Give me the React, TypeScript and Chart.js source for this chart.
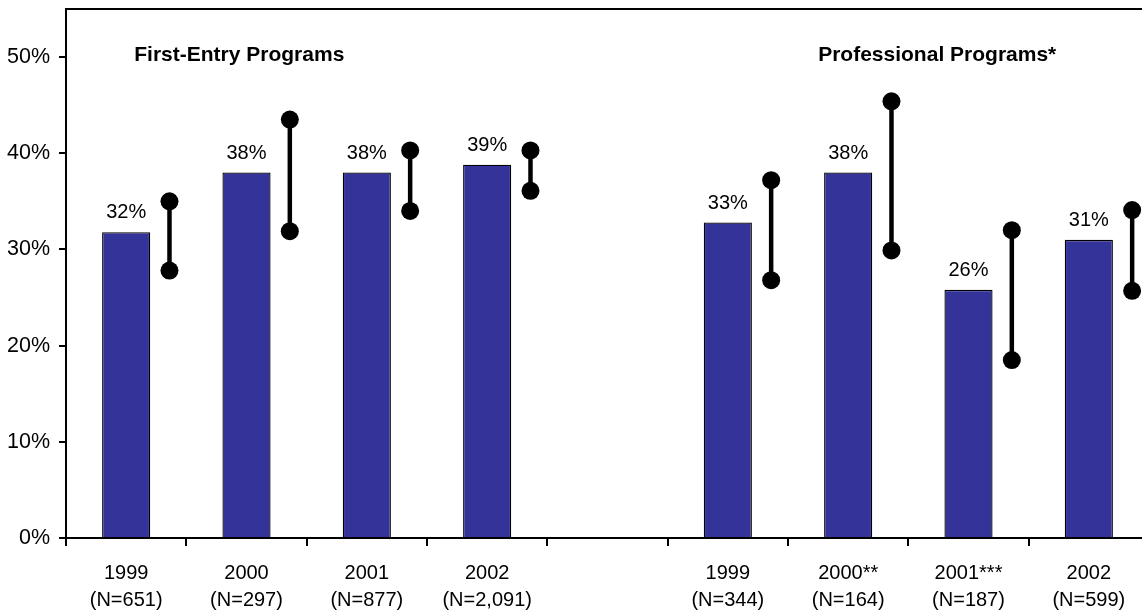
import React, { useEffect, useRef } from 'react';
import { Chart, registerables } from 'chart.js';

Chart.register(...registerables);

// ---- data ----
const categories: string[][] = [
  ['1999', '(N=651)'],
  ['2000', '(N=297)'],
  ['2001', '(N=877)'],
  ['2002', '(N=2,091)'],
  ['', ''],
  ['1999', '(N=344)'],
  ['2000**', '(N=164)'],
  ['2001***', '(N=187)'],
  ['2002', '(N=599)'],
];
const rates: (number | null)[] = [31.8, 38.0, 38.0, 38.8, null, 32.8, 38.0, 25.8, 31.0];
const ciLow: (number | null)[] = [27.8, 31.9, 34.0, 36.1, null, 26.8, 29.9, 18.5, 25.7];
const ciHigh: (number | null)[] = [35.0, 43.5, 40.3, 40.3, null, 37.2, 45.4, 32.0, 34.1];
const yTickValues: number[] = [0, 10, 20, 30, 40, 50];
const groupTitles: string[] = ['First-Entry Programs', 'Professional Programs*'];

const FONT = '"Liberation Sans", Arial, sans-serif';
const ERR_OFFSET = 0.36;
const TITLE_X = [0.94, 6.74];
const TITLE_Y = 49.6;

const overlay = {
  id: 'overlay',
  afterDatasetsDraw(chart: any) {
    const ctx = chart.ctx as CanvasRenderingContext2D;
    const { top, left, right, bottom } = chart.chartArea;
    ctx.save();
    ctx.strokeStyle = '#000';
    ctx.lineWidth = 2;
    ctx.beginPath();
    ctx.moveTo(left - 1, top);
    ctx.lineTo(right, top);
    ctx.lineTo(right, bottom);
    ctx.stroke();

    const meta = chart.getDatasetMeta(0);
    ctx.fillStyle = '#000';
    ctx.font = `20px ${FONT}`;
    ctx.textAlign = 'center';
    ctx.textBaseline = 'alphabetic';
    meta.data.forEach((el: any, i: number) => {
      const v = rates[i];
      if (v == null) return;
      ctx.fillText(`${Math.round(v)}%`, el.x, el.y - 14);
    });

    ctx.font = `bold 21px ${FONT}`;
    const xs = chart.scales.xe;
    const ys = chart.scales.y;
    groupTitles.forEach((t, i) => {
      ctx.fillText(t, xs.getPixelForValue(TITLE_X[i]), ys.getPixelForValue(TITLE_Y));
    });
    ctx.restore();
  },
};

export default function App() {
  const ref = useRef<HTMLCanvasElement | null>(null);
  useEffect(() => {
    if (!ref.current) return;
    const errSets: any[] = [];
    categories.forEach((_, i) => {
      const lo = ciLow[i];
      const hi = ciHigh[i];
      if (lo == null || hi == null) return;
      errSets.push({
        type: 'line',
        xAxisID: 'xe',
        data: [
          { x: i + ERR_OFFSET, y: lo },
          { x: i + ERR_OFFSET, y: hi },
        ],
        borderColor: '#000',
        borderWidth: 4.5,
        pointRadius: 9,
        pointBackgroundColor: '#000',
        pointBorderColor: '#000',
        pointBorderWidth: 0,
        fill: false,
      });
    });
    const chart = new Chart(ref.current, {
      type: 'bar',
      data: {
        labels: categories,
        datasets: [
          {
            type: 'bar',
            xAxisID: 'x',
            data: rates,
            backgroundColor: '#333399',
            borderColor: '#000',
            borderWidth: 1.3,
            grouped: false,
            barPercentage: 0.4,
            categoryPercentage: 1,
          } as any,
          ...errSets,
        ],
      },
      plugins: [overlay],
      options: {
        animation: false,
        responsive: false,
        events: [],
        layout: { padding: { left: 0, right: 11, top: 6, bottom: 0 } },
        plugins: { legend: { display: false }, tooltip: { enabled: false } },
        scales: {
          x: {
            type: 'category',
            offset: true,
            grid: {
              offset: true,
              drawOnChartArea: false,
              tickLength: 8,
              color: '#000',
              lineWidth: 2,
            },
            border: { color: '#000', width: 2 },
            ticks: {
              color: '#000',
              font: { family: FONT, size: 20, lineHeight: 1.35 },
              padding: 14,
              maxRotation: 0,
              autoSkip: false,
            },
            afterFit: (s: any) => {
              s.height = 78;
              s.paddingLeft = 0;
              s.paddingRight = 0;
            },
          },
          xe: {
            type: 'linear',
            display: false,
            offset: false,
            min: -0.5,
            max: categories.length - 0.5,
          },
          y: {
            min: 0,
            max: 55,
            afterBuildTicks: (s: any) => {
              s.ticks = yTickValues.map((v) => ({ value: v }));
            },
            grid: {
              drawOnChartArea: false,
              tickLength: 7,
              color: '#000',
              lineWidth: 2,
            },
            border: { color: '#000', width: 2 },
            ticks: {
              color: '#000',
              font: { family: FONT, size: 21.5 },
              padding: 9,
              callback: (v: any) => `${v}%`,
            },
            afterFit: (s: any) => {
              s.width = 66;
              s.paddingTop = 0;
              s.paddingBottom = 0;
            },
          },
        },
      } as any,
    });
    return () => chart.destroy();
  }, []);

  return (
    <div
      style={{
        position: 'fixed',
        left: 0,
        top: 0,
        width: 1142,
        height: 616,
        overflow: 'hidden',
        background: '#fff',
      }}
    >
      <canvas ref={ref} width={1160} height={616} style={{ width: 1160, height: 616, display: 'block' }} />
    </div>
  );
}
